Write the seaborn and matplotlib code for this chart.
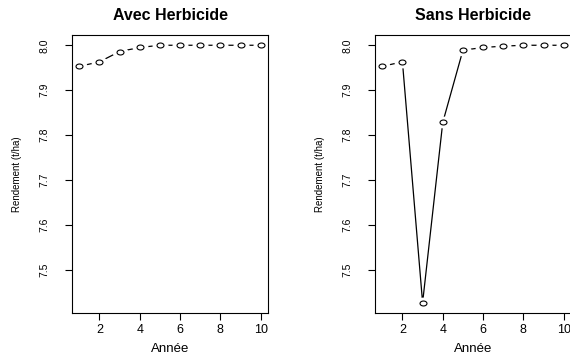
import numpy as np
import pandas as pd
import matplotlib
matplotlib.use("Agg")
import matplotlib.pyplot as plt
from matplotlib.path import Path
from matplotlib.transforms import Affine2D
import seaborn as sns

# donnees
annees = [1, 2, 3, 4, 5, 6, 7, 8, 9, 10]
avec_herbicide = [7.953, 7.963, 7.986, 7.995, 8.0, 8.0, 8.0, 8.0, 8.0, 8.0]
sans_herbicide = [7.953, 7.963, 7.426, 7.828, 7.989, 7.995, 7.998, 8.0, 8.0, 8.0]
titres = ["Avec Herbicide", "Sans Herbicide"]
y_ticks = [7.5, 7.6, 7.7, 7.8, 7.9, 8.0]
x_ticks = [2, 4, 6, 8, 10]

sns.set_style("white")
plt.rcParams['font.family'] = ['Liberation Sans', 'DejaVu Sans']
plt.rcParams['text.color'] = 'black'
plt.rcParams['axes.labelcolor'] = 'black'

# cercle un peu aplati (le rendu R est etire en largeur)
ellipse = Path.unit_circle().transformed(Affine2D().scale(1.4, 1.0))

fig = plt.figure(figsize=(5.7, 3.56), dpi=100)
ax1 = fig.add_axes([0.1263, 0.1208, 0.3439, 0.781])
ax2 = fig.add_axes([0.6579, 0.1208, 0.3439, 0.781])

ymin, ymax = min(avec_herbicide + sans_herbicide), max(avec_herbicide + sans_herbicide)
dy = (ymax - ymin) * 0.04
dx = (max(annees) - min(annees)) * 0.04

for ax, vals, titre in zip([ax1, ax2], [avec_herbicide, sans_herbicide], titres):
    df = pd.DataFrame({'annee': annees, 'rendement': vals})
    sns.lineplot(data=df, x='annee', y='rendement', ax=ax, color='black',
                 linewidth=0.9, zorder=1)
    # masque blanc pour couper la ligne autour des points (type="b")
    ax.plot(df['annee'], df['rendement'], linestyle='none', marker=ellipse,
            markersize=10.5, markerfacecolor='white', markeredgecolor='white', zorder=2)
    ax.plot(df['annee'], df['rendement'], linestyle='none', marker=ellipse,
            markersize=5, markerfacecolor='white', markeredgecolor='black',
            markeredgewidth=0.8, zorder=3)

    ax.set_xlim(min(annees) - dx, max(annees) + dx)
    ax.set_ylim(ymin - dy, ymax + dy)
    ax.set_xticks(x_ticks)
    ax.set_yticks(y_ticks)
    ax.set_yticklabels([f"{v:.1f}" for v in y_ticks], rotation=90, va='center')
    ax.tick_params(axis='x', direction='out', length=5, width=0.8, pad=3,
                   labelsize=9, colors='black', bottom=True)
    ax.tick_params(axis='y', direction='out', length=5, width=0.8, pad=11,
                   labelsize=7.5, colors='black', left=True)
    for sp in ax.spines.values():
        sp.set_visible(True)
        sp.set_color('black')
        sp.set_linewidth(0.8)
        sp.set_zorder(4)
    ax.set_title(titre, fontsize=11.5, fontweight='bold', color='black', pad=11)
    ax.set_xlabel("Année", fontsize=9.5, labelpad=5)
    ax.set_ylabel("Rendement (t/ha)", fontsize=7, labelpad=13)
    ax.grid(False)

fig.savefig("out.png", dpi=100)
